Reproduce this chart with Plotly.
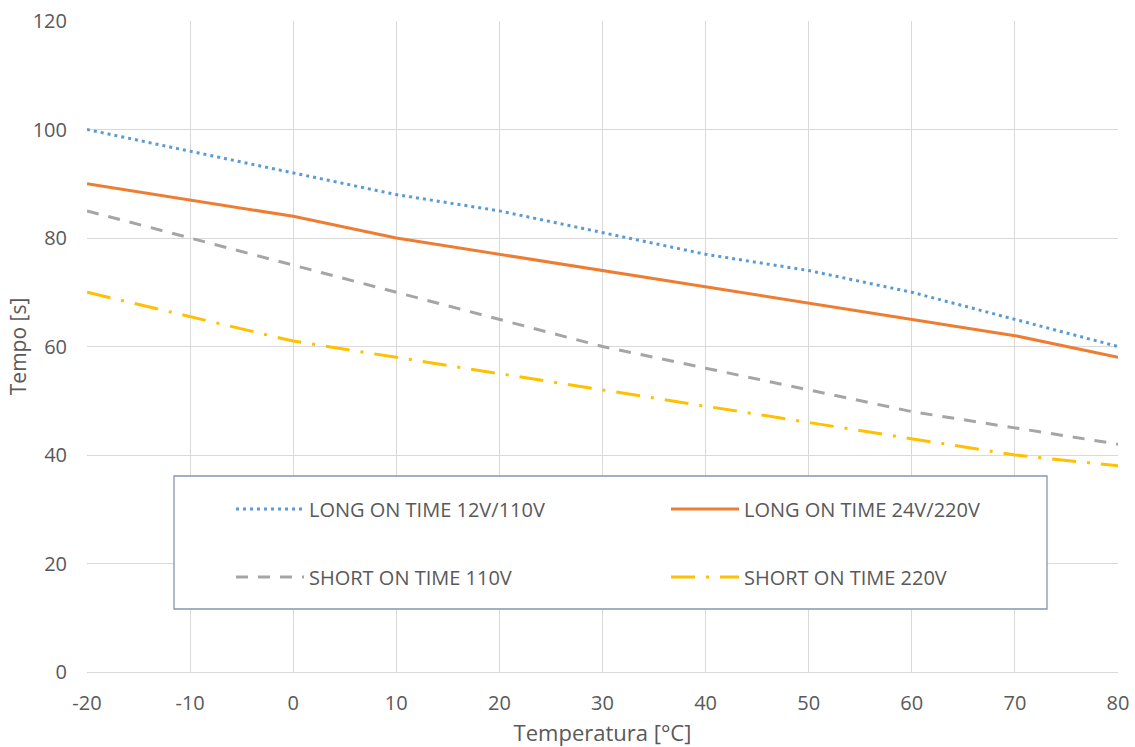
import plotly.graph_objects as go

temps = [-20, -10, 0, 10, 20, 30, 40, 50, 60, 70, 80]
long_12_110 = [100, 96, 92, 88, 85, 81, 77, 74, 70, 65, 60]
long_24_220 = [90, 87, 84, 80, 77, 74, 71, 68, 65, 62, 58]
short_110 = [85, 80, 75, 70, 65, 60, 56, 52, 48, 45, 42]
short_220 = [70, 65.5, 61, 58, 55, 52, 49, 46, 43, 40, 38]

x_ticks = [-20, -10, 0, 10, 20, 30, 40, 50, 60, 70, 80]
x_ticktext = ["-20", "-10", "0", "10", "20", "30", "40", "50", "60", "70", "80"]

names = ["LONG ON TIME 12V/110V", "LONG ON TIME 24V/220V",
         "SHORT ON TIME 110V", "SHORT ON TIME 220V"]
series = [long_12_110, long_24_220, short_110, short_220]
colors = ["#5B9BD5", "#ED7D31", "#A5A5A5", "#FFC000"]
dashes = ["3px,4px", "solid", "12px,10px", "24px,11px,3px,11px"]
legends = ["legend", "legend", "legend2", "legend2"]

fig = go.Figure()
for n, s, c, d, lg in zip(names, series, colors, dashes, legends):
    fig.add_trace(go.Scatter(x=temps, y=s, name=n, mode="lines",
                             line=dict(color=c, width=3, dash=d), legend=lg))

font = dict(family="Open Sans, Liberation Sans, sans-serif", size=20, color="#595959")
leg_common = dict(orientation="h", xanchor="left", yanchor="middle",
                  bgcolor="rgba(0,0,0,0)", borderwidth=0, itemwidth=68,
                  entrywidth=352, entrywidthmode="pixels", font=font)

# plot area in page coords: x 87..1118, y 21..672
L, T, PW, PH = 87, 21, 1031, 651
W, H = 1135, 747

fig.update_layout(
    width=W, height=H,
    margin=dict(l=L, r=W - L - PW, t=T, b=H - T - PH),
    paper_bgcolor="white", plot_bgcolor="white",
    font=font,
    xaxis=dict(range=[-20, 80], tickvals=x_ticks, ticktext=x_ticktext,
               showgrid=True, gridcolor="#D9D9D9", automargin=False,
               gridwidth=1, zeroline=False, showline=True, linecolor="#D9D9D9",
               ticks="", ticklabelstandoff=13, ticklabeloverflow="allow",
               title=dict(text="Temperatura [°C]", font=dict(size=22), standoff=21),
               tickfont=dict(size=20)),
    yaxis=dict(range=[0, 120], dtick=20, showgrid=True, gridcolor="#D9D9D9", gridwidth=1,
               zeroline=False, showline=False, ticks="", automargin=False,
               ticklabelstandoff=19, ticklabeloverflow="allow",
               title=dict(text="Tempo [s]", font=dict(size=21), standoff=0),
               tickfont=dict(size=20)),
    legend=dict(x=(231 - 87) / PW, y=(672 - 509) / PH, **leg_common),
    legend2=dict(x=(231 - 87) / PW, y=(672 - 577) / PH, **leg_common),
    shapes=[dict(type="rect", xref="paper", yref="paper",
                 x0=(174 - 87) / PW, x1=(1047 - 87) / PW,
                 y0=(672 - 609) / PH, y1=(672 - 476) / PH,
                 line=dict(color="#8497B0", width=1.3), fillcolor="white", layer="above")],
)
fig.write_html("out.html", config={"displayModeBar": False},
               post_script="document.body.style.margin='0';document.body.style.overflow='hidden';")
